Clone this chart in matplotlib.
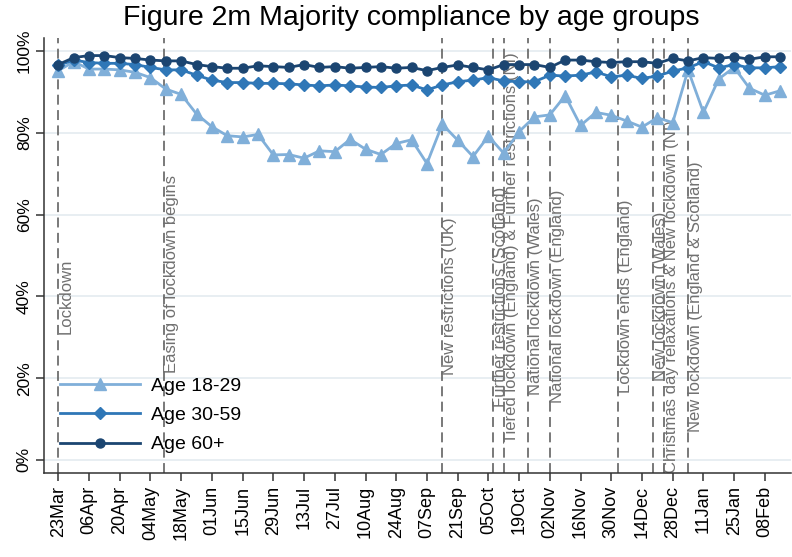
import matplotlib
matplotlib.use("Agg")
import matplotlib.pyplot as plt
import matplotlib.dates as mdates
import pandas as pd

plt.rcParams['font.family'] = ['Liberation Sans', 'DejaVu Sans']

# weekly survey waves
weeks = pd.date_range('2020-03-23', periods=48, freq='7D')

age_18_29 = [95.2, 97.4, 95.6, 95.6, 95.4, 94.8, 93.5, 90.7, 89.4, 84.6, 81.5, 79.3,
             79.0, 79.6, 74.6, 74.7, 73.8, 75.6, 75.4, 78.4, 76.0, 74.7, 77.4, 78.3,
             72.5, 82.1, 78.2, 74.2, 79.2, 75.0, 80.3, 83.9, 84.4, 89.1, 81.8, 85.0,
             84.3, 82.9, 81.4, 83.7, 82.5, 95.4, 85.0, 93.2, 96.0, 90.9, 89.2, 90.3]
age_30_59 = [96.5, 97.8, 97.2, 97.0, 97.0, 96.7, 96.0, 95.4, 95.4, 94.1, 92.9, 92.3,
             92.3, 92.1, 92.1, 92.0, 91.7, 91.5, 91.7, 91.5, 91.2, 91.1, 91.5, 91.7,
             90.5, 91.7, 92.5, 92.9, 93.5, 92.7, 92.5, 92.5, 94.1, 93.9, 94.1, 94.9,
             93.7, 94.1, 93.3, 93.9, 95.1, 95.9, 97.4, 95.9, 96.7, 95.9, 95.9, 96.2]
age_60_plus = [96.7, 98.4, 98.9, 98.9, 98.4, 98.2, 97.8, 97.6, 97.6, 96.7, 96.2, 95.8,
               95.8, 96.4, 96.2, 96.0, 96.7, 96.0, 96.2, 95.8, 96.0, 96.2, 95.8, 96.0,
               95.2, 96.0, 96.6, 96.0, 95.4, 96.7, 96.7, 96.7, 96.0, 97.8, 97.8, 97.4,
               97.2, 97.4, 97.4, 97.0, 98.2, 97.6, 98.4, 98.2, 98.6, 98.0, 98.6, 98.6]

event_dates = ['2020-03-23', '2020-05-10', '2020-09-14', '2020-10-07', '2020-10-12',
               '2020-10-23', '2020-11-02', '2020-12-03', '2020-12-19', '2020-12-24',
               '2021-01-04']
event_labels = ['Lockdown', 'Easing of lockdown begins', 'New restrictions (UK)',
                'Further restrictions (Scotland)',
                'Tiered lockdown (England) & Further restrictions (NI)',
                'National lockdown (Wales)', 'National lockdown (England)',
                'Lockdown ends (England)', 'New lockdown (Wales)',
                'Christmas day relaxations & New lockdown (NI)',
                'New lockdown (England & Scotland)']
event_label_y = [40, 45.5, 40, 40, 52, 40, 40, 40, 40, 40, 40]

light, mid, dark = '#80afd9', '#2f77b7', '#1b4571'

fig = plt.figure(figsize=(7.92, 5.57), dpi=100)
ax = fig.add_axes([0.0559, 0.1508, 0.9428, 0.781])

start = pd.Timestamp('2020-03-23')
ax.set_xlim(start - pd.Timedelta(days=6.4), start + pd.Timedelta(days=333.9))
ax.set_ylim(-3.2, 103.2)

for y in range(0, 101, 20):
    ax.axhline(y, color='#e6edf1', lw=1.3, zorder=0)

for d, lab, ly in zip(event_dates, event_labels, event_label_y):
    d = pd.Timestamp(d)
    ax.axvline(d, color='#6e6e6e', lw=1.3, ls=(0, (5.5, 3)), zorder=1)
    ax.text(d, ly, lab, rotation=90, ha='left', va='center', fontsize=12,
            color='#707070', zorder=2)

ax.plot(weeks, age_18_29, color=light, lw=2, marker='^', ms=8, label='Age 18-29', zorder=3)
ax.plot(weeks, age_30_59, color=mid, lw=2, marker='D', ms=6.5, label='Age 30-59', zorder=4)
ax.plot(weeks, age_60_plus, color=dark, lw=2, marker='o', ms=6.5, label='Age 60+', zorder=5)

ax.set_xticks(pd.date_range('2020-03-23', '2021-02-08', freq='14D'))
ax.xaxis.set_major_formatter(mdates.DateFormatter('%d%b'))
ax.tick_params(axis='x', rotation=90, labelsize=13, length=6, width=1.1,
               color='#333333', pad=3)
ax.set_yticks(range(0, 101, 20))
ax.set_yticklabels([f'{v}%' for v in range(0, 101, 20)], rotation=90, va='center')
ax.tick_params(axis='y', labelsize=12.5, length=6, width=1.1, color='#333333', pad=3)

for s in ['top', 'right']:
    ax.spines[s].set_visible(False)
for s in ['left', 'bottom']:
    ax.spines[s].set_color('#333333')
    ax.spines[s].set_linewidth(1.1)

ax.legend(loc='lower left', bbox_to_anchor=(0.021, 0.045), frameon=False, fontsize=14,
          handlelength=4.1, handletextpad=0.6, labelspacing=0.6, borderpad=0,
          borderaxespad=0, numpoints=1)

fig.text(0.519, 0.968, 'Figure 2m Majority compliance by age groups', ha='center',
         va='center', fontsize=20.5)

fig.savefig('out.png', dpi=100)
